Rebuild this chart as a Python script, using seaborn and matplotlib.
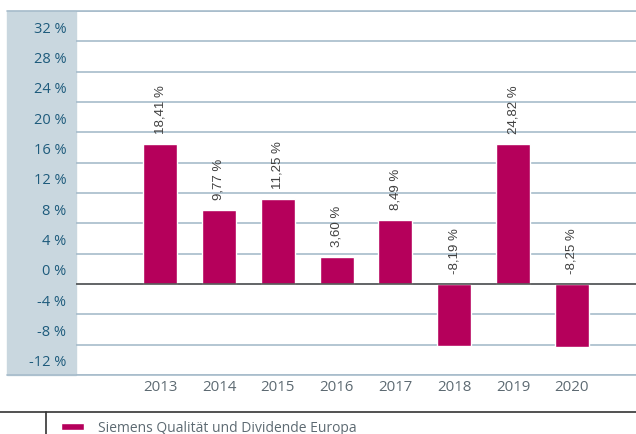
"""Annual performance bar chart."""
import matplotlib
matplotlib.use('Agg')
import matplotlib.pyplot as plt
from matplotlib.lines import Line2D
from matplotlib.patches import Rectangle
from matplotlib.ticker import FixedLocator, MultipleLocator
import pandas as pd
import seaborn as sns

years = ['2013', '2014', '2015', '2016', '2017', '2018', '2019', '2020']
# bar heights as drawn in the picture (the 2019 bar is drawn at the 2013 height)
bar_values = [18.41, 9.77, 11.25, 3.60, 8.49, -8.19, 18.41, -8.25]
value_labels = ['18,41 %', '9,77 %', '11,25 %', '3,60 %', '8,49 %',
                '-8,19 %', '24,82 %', '-8,25 %']
fund_name = 'Siemens Qualität und Dividende Europa'
y_tick_values = [-12, -8, -4, 0, 4, 8, 12, 16, 20, 24, 28, 32]

BAR_COLOR = '#b5005b'
GRID_COLOR = '#a7bccb'
PANEL_COLOR = '#c9d7df'
TICK_COLOR = '#1e5b7c'
YEAR_COLOR = '#5d6a72'
W, H = 636, 435

sns.set_theme(style='white')
plt.rcParams['font.family'] = ['Open Sans', 'DejaVu Sans']

df = pd.DataFrame({'year': years, 'value': bar_values, 'fund': fund_name})

fig = plt.figure(figsize=(W / 100, H / 100), dpi=100)
ax = fig.add_axes([76 / W, (H - 376) / H, (W - 76) / W, (376 - 12) / H])
ax.set_zorder(2)
ax.patch.set_alpha(0)

# grey panel behind the y tick labels
fig.patches.append(Rectangle((7 / W, (H - 376) / H), 69 / W, 364 / H,
                             transform=fig.transFigure, color=PANEL_COLOR,
                             zorder=-1))
for yy in (12, 376):
    fig.lines.append(Line2D([7 / W, 1], [(H - yy) / H] * 2,
                            transform=fig.transFigure, color=GRID_COLOR,
                            lw=1.2, zorder=3))

sns.barplot(data=df, x='year', y='value', hue='fund', palette=[BAR_COLOR],
            width=0.58, dodge=False, saturation=1, ax=ax, zorder=3)

ax.set_ylim(-12, 36)
ax.set_xlim(-1.43, 8.09)
ax.yaxis.set_major_locator(FixedLocator([v + 2 for v in y_tick_values]))
ax.set_yticklabels(['{} %'.format(v) for v in y_tick_values])
ax.yaxis.set_minor_locator(MultipleLocator(4))
ax.grid(False)
ax.grid(which='minor', axis='y', color=GRID_COLOR, lw=1.2)
ax.axhline(0, color='#555555', lw=1.2, zorder=4)
ax.tick_params(axis='y', which='both', length=0, pad=7, labelsize=10.5,
               labelcolor=TICK_COLOR)
ax.tick_params(axis='x', length=0, pad=3, labelsize=10.8,
               labelcolor=YEAR_COLOR)
ax.set_xlabel('')
ax.set_ylabel('')
for spine in ax.spines.values():
    spine.set_visible(False)

for i, (v, lab) in enumerate(zip(bar_values, value_labels)):
    ax.annotate(lab, (i, max(v, 0)), xytext=(0, 8), textcoords='offset points',
                rotation=90, ha='center', va='bottom', fontsize=9.5,
                color='#404040', family=['Liberation Sans', 'DejaVu Sans'],
                zorder=5)

# footer rule and legend
fig.lines.append(Line2D([0, 1], [(H - 412.5) / H] * 2,
                        transform=fig.transFigure, color='#333333', lw=1.2))
fig.lines.append(Line2D([46 / W] * 2, [(H - 412.5) / H, 0],
                        transform=fig.transFigure, color='#333333', lw=1.2))
sns.move_legend(ax, 'center left', bbox_to_anchor=(61 / W, (H - 429) / H),
                bbox_transform=fig.transFigure, frameon=False, title=None,
                borderpad=0, borderaxespad=0, handlelength=1.65,
                handleheight=0.3, handletextpad=1.0, fontsize=10)
for t in ax.get_legend().get_texts():
    t.set_color(YEAR_COLOR)

fig.savefig('out.png', dpi=100)
